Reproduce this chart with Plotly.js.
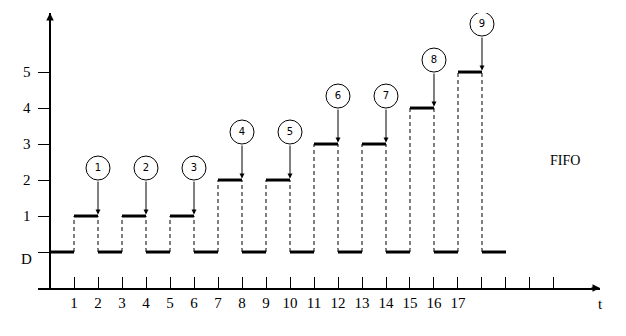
<!DOCTYPE html>
<html>
<head>
<meta charset="utf-8">
<script src="https://cdn.plot.ly/plotly-3.0.1.min.js"></script>
<style>
  html, body { margin: 0; padding: 0; background: #fff; }
  #chart { width: 626px; height: 336px; }
</style>
</head>
<body>
<div id="chart"></div>
<script>
// Queue content over time under FIFO service: level per unit time slot (D = empty).
const slotStart = [0, 1, 2, 3, 4, 5, 6, 7, 8, 9, 10, 11, 12, 13, 14, 15, 16, 17, 18];
const slotLevel = [0, 1, 0, 1, 0, 1, 0, 2, 0, 2, 0, 3, 0, 3, 0, 4, 0, 5, 0];

// Numbered arrivals: time of the arrow and the level it points to.
const arrivalId = ['1', '2', '3', '4', '5', '6', '7', '8', '9'];
const arrivalT = [2, 4, 6, 8, 10, 12, 14, 16, 18];
const arrivalLevel = [1, 1, 1, 2, 2, 3, 3, 4, 5];

// Axis ticks and labels.
const xTickVals = [1, 2, 3, 4, 5, 6, 7, 8, 9, 10, 11, 12, 13, 14, 15, 16, 17, 18, 19, 20, 21];
const xTickText = ['1', '2', '3', '4', '5', '6', '7', '8', '9', '10', '11', '12', '13', '14', '15', '16', '17', '', '', '', ''];
const yTickVals = [0, 1, 2, 3, 4, 5];
const yLabelText = ['D', '1', '2', '3', '4', '5'];
const yLabelPos = [-0.2, 1, 2, 3, 4, 5];

const X_MIN = -0.5, X_MAX = 22.917;
const Y_MIN = -1, Y_MAX = 6.64;
const serif = 'Liberation Serif, Times New Roman, serif';

// Thick horizontal level segments.
const segX = [], segY = [];
slotStart.forEach((t, i) => {
  segX.push(t, t + 1, null);
  segY.push(slotLevel[i], slotLevel[i], null);
});

// Dashed risers wherever a slot sits above D.
const dashX = [], dashY = [];
slotStart.forEach((t, i) => {
  if (slotLevel[i] > 0) {
    dashX.push(t, t, null, t + 1, t + 1, null);
    dashY.push(0, slotLevel[i], null, 0, slotLevel[i], null);
  }
});

// Circle centres sit above each arrival's level.
const circleY = arrivalLevel.map(v => v + 1.333);

const traces = [
  {
    x: dashX, y: dashY, mode: 'lines', hoverinfo: 'skip',
    line: { color: '#000', width: 1, dash: '4px,3px' }
  },
  {
    x: segX, y: segY, mode: 'lines', hoverinfo: 'skip',
    line: { color: '#000', width: 3 }
  },
  {
    x: arrivalT, y: circleY, mode: 'markers+text', text: arrivalId,
    textposition: 'middle center', hoverinfo: 'skip',
    textfont: { family: 'DejaVu Sans, sans-serif', size: 10, color: '#000' },
    marker: { symbol: 'circle-open', size: 24, color: '#000', line: { width: 1, color: '#000' } }
  }
];

const annotations = [];
// Arrows from each circle down to its level.
arrivalT.forEach((t, i) => {
  annotations.push({
    x: t, y: arrivalLevel[i] + 0.04, xref: 'x', yref: 'y',
    ax: t, ay: arrivalLevel[i] + 1.0, axref: 'x', ayref: 'y',
    showarrow: true, arrowhead: 2, arrowsize: 1, arrowwidth: 1,
    arrowcolor: '#000', text: '', standoff: 0
  });
});
// Y labels, left of the axis.
yLabelText.forEach((s, i) => {
  annotations.push({
    x: -0.0196, y: yLabelPos[i], xref: 'paper', yref: 'y', text: s, showarrow: false,
    xanchor: 'center', yanchor: 'middle',
    font: { family: serif, size: 15, color: '#000' }
  });
});
// Axis arrowheads.
annotations.push({
  x: 0, y: 1, xref: 'x', yref: 'paper', ax: 0, ay: 10,
  showarrow: true, arrowhead: 2, arrowsize: 1, arrowwidth: 1.5, arrowcolor: '#000', text: ''
});
annotations.push({
  x: 1, y: 0, xref: 'paper', yref: 'paper', ax: -10, ay: 0,
  showarrow: true, arrowhead: 2, arrowsize: 1, arrowwidth: 1.5, arrowcolor: '#000', text: ''
});
// Axis name and policy label.
annotations.push({
  x: 1.0, y: -0.058, xref: 'paper', yref: 'paper', text: 't', showarrow: false,
  xanchor: 'center', yanchor: 'middle',
  font: { family: serif, size: 15, color: '#000' }
});
annotations.push({
  x: 21.46, y: 2.556, xref: 'x', yref: 'y', text: 'FIFO', showarrow: false,
  xanchor: 'center', yanchor: 'middle',
  font: { family: serif, size: 14, color: '#000' }
});

const layout = {
  width: 626, height: 336,
  margin: { l: 38, r: 26, t: 13, b: 48, pad: 0 },
  paper_bgcolor: '#fff', plot_bgcolor: '#fff',
  showlegend: false,
  xaxis: {
    range: [X_MIN, X_MAX], showgrid: false,
    zeroline: true, zerolinecolor: '#000', zerolinewidth: 1.5,
    showline: true, linecolor: '#000', linewidth: 1.5,
    ticks: 'inside', ticklen: 11, tickwidth: 1, tickcolor: '#000',
    tickmode: 'array', tickvals: xTickVals, ticktext: xTickText,
    tickfont: { family: serif, size: 15, color: '#000' },
    fixedrange: true
  },
  yaxis: {
    range: [Y_MIN, Y_MAX], showgrid: false, zeroline: false, showline: false,
    ticks: 'inside', ticklen: 12, tickwidth: 1, tickcolor: '#000',
    tickmode: 'array', tickvals: yTickVals, showticklabels: false,
    fixedrange: true
  },
  annotations: annotations
};

Plotly.newPlot('chart', traces, layout, { displayModeBar: false, staticPlot: true });
</script>
</body>
</html>
